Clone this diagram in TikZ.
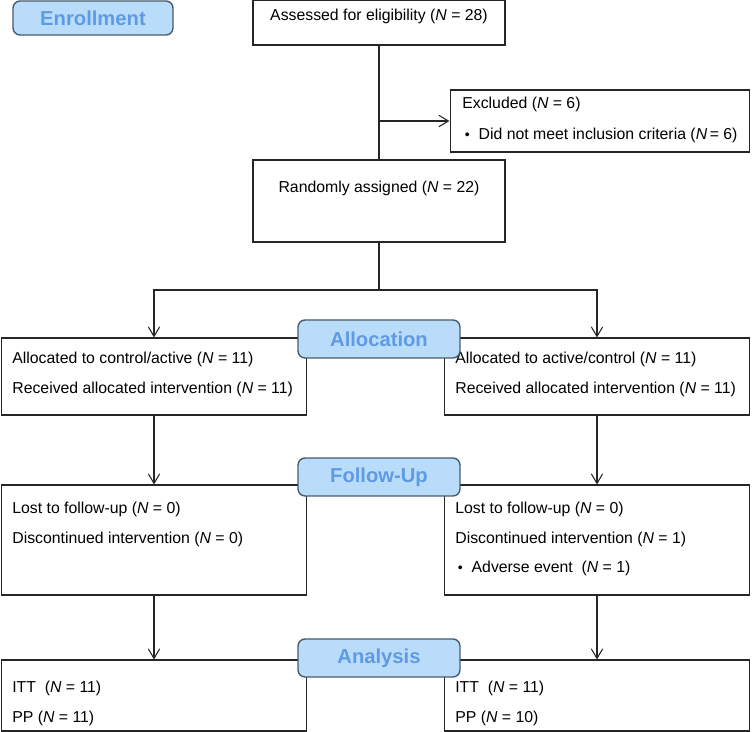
\documentclass[tikz,border=0pt]{standalone}
\usepackage{fontspec}
\setmainfont{Liberation Sans}
\usetikzlibrary{arrows.meta}
\definecolor{phasefill}{HTML}{B9DCFA}
\definecolor{phaseline}{HTML}{4A5A6A}
\definecolor{phasetext}{HTML}{5F9BE3}

\begin{document}
\begin{tikzpicture}[x=0.02cm,y=-0.02cm,
    box/.style={draw=black!85,line width=0.6pt,inner sep=0pt},
    txt/.style={inner sep=0pt,align=left,font=\fontsize{9}{17}\selectfont},
    phase/.style={draw=phaseline,fill=phasefill,line width=0.8pt,rounded corners=4pt,
      minimum width=3.24cm,minimum height=0.76cm,text=phasetext,
      font=\fontsize{11.5}{13}\selectfont\bfseries},
    conn/.style={draw=black!85,line width=0.6pt},
    arr/.style={conn,-{Straight Barb[length=5.5pt,width=6.5pt]}}]
      \useasboundingbox (0,0) rectangle (752,732);
      %%%%%%%%%%%%%%%%%%%%%%%%%%%%%%%%%%%%%%%%%%%%%%%
      \node[box,minimum width=5.04cm,minimum height=0.9cm] (assess) at (379,22.5) {};
      \node[txt] (assessT) at (379,16) {Assessed for eligibility (\textit{N} = 28)};
      \node[box,minimum width=6.0cm,minimum height=1.24cm] (excl) at (600,121) {};
      \node[txt,anchor=west] (exclT) at (462,120) {Excluded (\textit{N} = 6)\\[1pt] \,{\footnotesize\textbullet}\ \ Did not meet inclusion criteria (\textit{N}\,= 6)};
      \node[box,minimum width=5.04cm,minimum height=1.64cm] (rand) at (379,201) {};
      \node[txt] (randT) at (379,188) {Randomly assigned (\textit{N} = 22)};
      \coordinate (junc) at (assess.south |- excl.west);
      \draw[conn] (assess.south) -- (rand.north);
      \draw[arr] (junc) -- (excl.west);
      %%%%%%%%%%%%%%%%%%%%%%%%%%%%%%%%%%%%%%%%%%%%%%%
      \node[box,minimum width=6.12cm,minimum height=1.54cm] (la) at (154,376.5) {};
      \node[box,minimum width=6.12cm,minimum height=1.54cm] (ra) at (597,376.5) {};
      \node[txt,anchor=west] (laT) at (12,374) {Allocated to control/active (\textit{N} = 11)\\Received allocated intervention (\textit{N} = 11)};
      \node[txt,anchor=west] (raT) at (455,374) {Allocated to active/control (\textit{N} = 11)\\Received allocated intervention (\textit{N} = 11)};
      \coordinate (split) at (379,290);
      \draw[conn] (rand.south) -- (split);
      \draw[arr] (split) -| (la.north);
      \draw[arr] (split) -| (ra.north);
      %%%%%%%%%%%%%%%%%%%%%%%%%%%%%%%%%%%%%%%%%%%%%%%
      \node[box,minimum width=6.12cm,minimum height=2.2cm] (lb) at (154,540) {};
      \node[box,minimum width=6.12cm,minimum height=2.2cm] (rb) at (597,540) {};
      \node[txt,anchor=west] (lbT) at (12,524) {Lost to follow-up (\textit{N} = 0)\\Discontinued intervention (\textit{N} = 0)};
      \node[txt,anchor=west] (rbT) at (455,539) {Lost to follow-up (\textit{N} = 0)\\Discontinued intervention (\textit{N} = 1)\\ \,{\footnotesize\textbullet}\ \ Adverse event\ \ (\textit{N} = 1)};
      \draw[arr] (la.south) -- (lb.north);
      \draw[arr] (ra.south) -- (rb.north);
      %%%%%%%%%%%%%%%%%%%%%%%%%%%%%%%%%%%%%%%%%%%%%%%
      \node[box,minimum width=6.12cm,minimum height=1.42cm] (lc) at (154,695.5) {};
      \node[box,minimum width=6.12cm,minimum height=1.42cm] (rc) at (597,695.5) {};
      \node[txt,anchor=west] (lcT) at (12,703) {ITT\ \ (\textit{N} = 11)\\PP (\textit{N} = 11)};
      \node[txt,anchor=west] (rcT) at (455,703) {ITT\ \ (\textit{N} = 11)\\PP (\textit{N} = 10)};
      \draw[arr] (lb.south) -- (lc.north);
      \draw[arr] (rb.south) -- (rc.north);
      %%%%%%%%%%%%%%%%%%%%%%%%%%%%%%%%%%%%%%%%%%%%%%%
      \node[phase,minimum width=3.2cm,minimum height=0.68cm] (enroll) at (93,18) {Enrollment};
      \node[phase] (alloc) at (379,339) {Allocation};
      \node[phase] (follow) at (379,477) {Follow-Up};
      \node[phase] (analysis) at (379,658) {Analysis};
      %%%%%%%%%%%%%%%%%%%%%%%%%%%%%%%%%%%%%%%%%%%%%%%
\end{tikzpicture}
\end{document}
